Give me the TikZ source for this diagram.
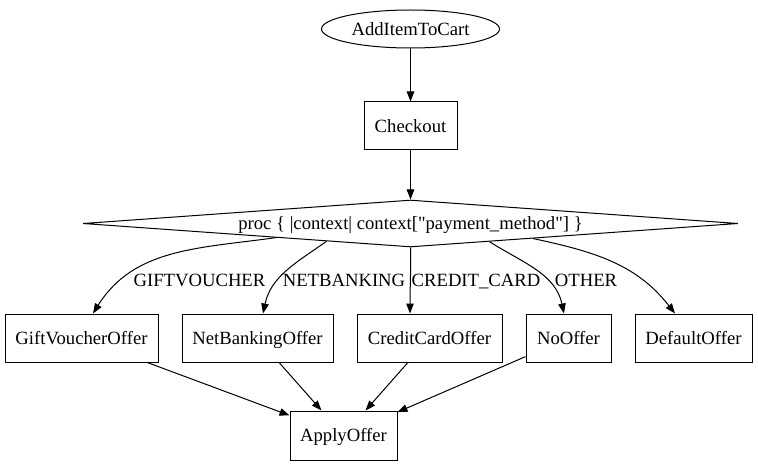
\documentclass[tikz,border=0pt]{standalone}
\usepackage{fontspec}
\setmainfont{Liberation Serif}[Ligatures=TeXOff]
\usetikzlibrary{shapes.geometric,arrows.meta}

\begin{document}
\begin{tikzpicture}[x = 1pt, y = -1pt,
    every node/.style = {font=\fontsize{18.67}{22}\selectfont, inner sep=0pt, text height=17pt, text depth=4.2pt},
    state/.style = {draw, line width=1pt, rectangle, minimum height=48pt},
    edge/.style = {line width=1pt, -{Triangle[length=10pt, width=7.5pt]}}]
    \useasboundingbox (0,0) rectangle (758,465);
    % nodes
    \node[draw, line width=1pt, ellipse, minimum width=178pt, minimum height=38pt] (add) at (410.5,29) {AddItemToCart};
    \node[state, minimum width=93pt] (checkout) at (410.5,126) {Checkout};
    \node[draw, line width=1pt, diamond, aspect=14, minimum width=655pt, minimum height=47pt] (proc) at (410.5,223.5)
        {proc \{ |context| context["payment\_method"] \}};
    \node[state, minimum width=153pt] (gift) at (81.5,338) {GiftVoucherOffer};
    \node[state, minimum width=151pt] (net) at (257.5,338) {NetBankingOffer};
    \node[state, minimum width=145pt] (credit) at (429.5,338) {CreditCardOffer};
    \node[state, minimum width=85pt] (nooffer) at (568.5,338) {NoOffer};
    \node[state, minimum width=117pt] (default) at (693.5,338) {DefaultOffer};
    \node[state, minimum width=107pt, minimum height=49pt] (apply) at (343.5,435.5) {ApplyOffer};
    % edges
    \draw[edge] (add) -- (checkout);
    \draw[edge] (checkout) -- (proc.north);
    \draw[edge] (proc.186.1) to [out=188, in=58] (gift.north -| 93,0);
    \draw[edge] (proc.192.3) to [out=215, in=78] (net.north -| 263,0);
    \draw[edge] (proc.south) to [out=-89, in=90] (credit.north -| 410,0);
    \draw[edge] (proc.347.9) to [out=-32, in=102] (nooffer.north -| 564,0);
    \draw[edge] (proc.353.1) to [out=-12, in=128] (default.north -| 675,0);
    \draw[edge] (gift) -- (apply);
    \draw[edge] (net) -- (apply);
    \draw[edge] (credit) -- (apply);
    \draw[edge] (nooffer) -- (apply);
    % edge labels
    \node (lgift) at (199.5,280) {GIFTVOUCHER};
    \node (lnet) at (344,280) {NETBANKING};
    \node (lcredit) at (476,280) {CREDIT\_CARD};
    \node (lother) at (586,280) {OTHER};
\end{tikzpicture}
\end{document}
